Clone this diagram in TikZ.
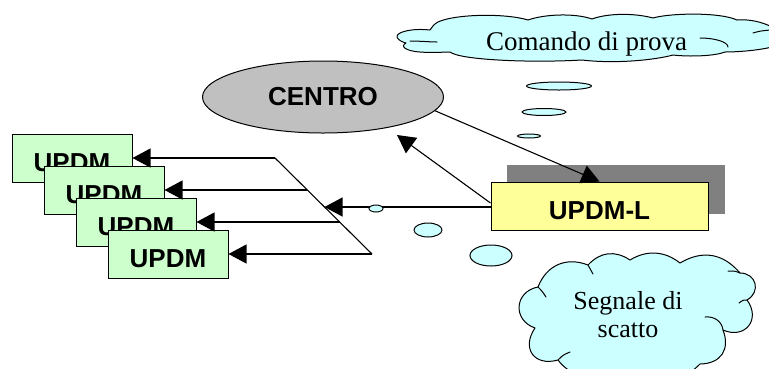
\documentclass[tikz,border=0pt]{standalone}
\usepackage{fontspec}
\setmainfont{Liberation Serif}
\setsansfont{Liberation Sans}
\usetikzlibrary{arrows.meta,shapes.geometric}

\definecolor{cloudfill}{HTML}{CCFFFF}
\definecolor{unitfill}{HTML}{CCFFCC}
\definecolor{centrefill}{HTML}{C0C0C0}
\definecolor{leadfill}{HTML}{FFFF99}
\definecolor{shadowfill}{HTML}{808080}

\tikzset{
  unit/.style={draw, line width=1pt, fill=unitfill, minimum width=120pt,
    minimum height=48pt, inner sep=0pt,
    font=\sffamily\bfseries\fontsize{26}{30}\selectfont,
    text height=26pt, text depth=0pt},
  arr/.style={line width=1.1pt, -{Triangle[length=18pt,width=19pt]}},
  plain/.style={line width=1.1pt},
  bubble/.style={draw, line width=1pt, fill=cloudfill, ellipse, inner sep=0pt},
  cloudline/.style={draw, line width=1pt, fill=cloudfill, line join=round},
  wisp/.style={line width=1pt, line cap=round},
}

\begin{document}
\begin{tikzpicture}[x=1pt, y=-1pt]
\useasboundingbox (0,0) rectangle (769,368);
\clip (0,0) rectangle (769,368);

% flat thought cloud carrying the test command
\path[cloudline] (772,27)
  .. controls (762,22) and (750,19) .. (737,20)
  .. controls (720,12) and (670,13) .. (653,18)
  .. controls (635,13) and (608,13) .. (592,19)
  .. controls (575,13) and (545,14) .. (528,20)
  .. controls (505,13) and (455,14) .. (438,22)
  .. controls (434,24) and (432,27) .. (430,30)
  .. controls (412,28) and (396,32) .. (397,37)
  .. controls (398,40) and (402,42) .. (406,43)
  .. controls (400,46) and (405,51) .. (420,52)
  .. controls (432,53) and (444,52) .. (450,52)
  .. controls (460,60) and (530,63) .. (582,60)
  .. controls (615,64) and (655,60) .. (673,55)
  .. controls (690,57) and (715,56) .. (725,52)
  .. controls (740,52) and (760,50) .. (772,47)
  -- cycle;
\draw[wisp] (410,41) .. controls (420,41) and (430,42) .. (437,42);
\draw[wisp] (700,38) .. controls (715,38) and (728,42) .. (728,47);
\draw[wisp] (753,33) .. controls (760,31) .. (770,30);
\node[anchor=base, inner sep=0pt, font=\fontsize{27}{30}\selectfont]
  (cmd) at (586.5,50) {Comando di prova};

% bubbles trailing from the command cloud
\node[bubble, minimum width=65pt, minimum height=8pt] (t1) at (559,86) {};
\node[bubble, minimum width=44pt, minimum height=7pt] (t2) at (544,112) {};
\node[bubble, minimum width=23pt, minimum height=4pt] (t3) at (529,136) {};

% centre
\node[ellipse, draw, line width=1pt, fill=centrefill, minimum width=241pt,
  minimum height=72pt, inner sep=0pt,
  font=\sffamily\bfseries\fontsize{26}{30}\selectfont]
  (centro) at (323,97) {CENTRO};

% local unit with its shadow
\fill[shadowfill] (507,165) rectangle (725,214);
\node[unit, fill=leadfill, minimum width=217pt] (ul) at (599.5,206) {UPDM-L};

% stacked remote units
\node[unit] (u1) at (72,158) {UPDM};
\node[unit] (u2) at (104,190) {UPDM};
\node[unit] (u3) at (136,222) {UPDM};
\node[unit] (u4) at (168,254) {UPDM};

% distribution bus
\coordinate (dtop) at (275,158);
\coordinate (dbot) at (372,254);
\coordinate (d2) at (307.3,190);
\coordinate (d3) at (339.7,222);
\coordinate (din) at (324.5,207);
\draw[plain] (dtop) -- (dbot);
\draw[arr] (dtop) -- (u1.east);
\draw[arr] (d2) -- (u2.east);
\draw[arr] (d3) -- (u3.east);
\draw[arr] (dbot) -- (u4.east);
\draw[arr] (ul.west |- din) -- (din);

% links between centre and local unit
\coordinate (cin) at (397,135);
\draw[arr] (centro.-7) -- (ul.north);
\draw[arr] ([yshift=3pt]ul.west) -- (cin);

% bubbles toward the trigger cloud
\node[bubble, minimum width=14pt, minimum height=7pt] (s1) at (376,208.5) {};
\node[bubble, minimum width=28pt, minimum height=14pt] (s2) at (428,230) {};
\node[bubble, minimum width=42pt, minimum height=21pt] (s3) at (491,255.5) {};

% trigger signal cloud, one puff per segment (clockwise)
\path[cloudline] (535,328)
  to[bend left=75, looseness=1.5] (538,287)
  to[bend left=45, looseness=1.1] (588,265)
  to[bend left=40, looseness=1.1] (630,260)
  to[bend left=35, looseness=1.0] (680,263)
  to[bend left=40, looseness=1.1] (740,273)
  to[bend left=75, looseness=1.5] (747,300)
  to[bend left=75, looseness=1.6] (723,330)
  to[bend left=55, looseness=1.3] (700,364)
  to[bend left=40, looseness=1.0] (610,372)
  to[bend left=40, looseness=1.0] (558,360)
  to[bend left=70, looseness=1.6] (535,328)
  -- cycle;
\draw[wisp] (588,265) .. controls (590,269) .. (593,274);
\draw[wisp] (538,287) .. controls (542,291) .. (546,297);
\draw[wisp] (740,273) .. controls (735,271) .. (728,271);
\draw[wisp] (747,300) .. controls (743,300) .. (739,303);
\draw[wisp] (705,317) .. controls (715,316) and (722,322) .. (723,330);
\draw[wisp] (558,360) .. controls (563,355) .. (570,352);
\node[align=center, inner sep=0pt, font=\fontsize{26}{28}\selectfont]
  (sig) at (628,315) {Segnale di\\scatto};
\end{tikzpicture}
\end{document}
